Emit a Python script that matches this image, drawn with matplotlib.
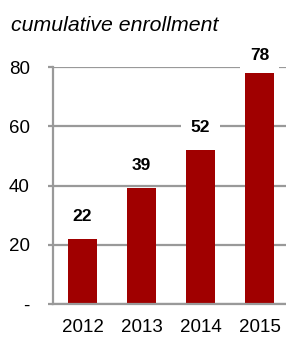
import matplotlib
matplotlib.use('Agg')
import matplotlib.pyplot as plt

years = ['2012', '2013', '2014', '2015']
enrollment = [22, 39, 52, 78]
yticks = [0, 20, 40, 60, 80]
ytick_labels = ['-', '20', '40', '60', '80']

plt.rcParams['font.family'] = ['Liberation Sans', 'DejaVu Sans']

fig = plt.figure(figsize=(2.86, 3.37), dpi=100)
ax = fig.add_axes([53 / 286, 33 / 337, 1 - 53 / 286, 237 / 337])

x = range(len(years))
bars = ax.bar(x, enrollment, width=0.5, color='#a00000', zorder=3)

ymax = 80
for xi, v in zip(x, enrollment):
    # label sits ~11pt above bar, squeezed when close to the top
    off = min(11, 6.5 + (ymax - v) * 0.25)
    ax.annotate(str(v), (xi, v), xytext=(0, off), textcoords='offset points',
                ha='center', va='bottom', fontsize=12.5, fontweight='bold',
                zorder=2.5, annotation_clip=False,
                bbox=dict(boxstyle='square,pad=0.55', fc='white', ec='none'))

ax.set_xlim(-0.5, 3.45)
ax.set_ylim(0, ymax)
ax.set_yticks(yticks)
ax.set_yticklabels(ytick_labels)
ax.set_xticks(list(x))
ax.set_xticklabels(years)
ax.grid(axis='y', color='#999999', linewidth=1.6, zorder=0)
ax.tick_params(axis='y', length=3.6, width=1.6, color='#999999', labelsize=13.5, pad=13)
ax.tick_params(axis='x', length=0, labelsize=13.5, pad=11)
for s in ['top', 'right']:
    ax.spines[s].set_visible(False)
for s in ['left', 'bottom']:
    ax.spines[s].set_color('#999999')
    ax.spines[s].set_linewidth(1.6)
    ax.spines[s].set_zorder(4)

fig.text(11 / 286, 1 - 31 / 337, 'cumulative enrollment', fontsize=15.3,
         fontstyle='italic', va='baseline', ha='left')

fig.savefig('out.png', dpi=100)
